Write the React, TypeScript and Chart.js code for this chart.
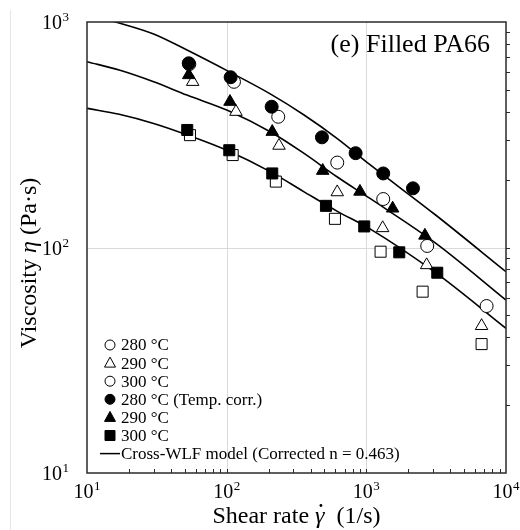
import React, { useEffect, useRef } from 'react';
import { Chart, registerables } from 'chart.js';

Chart.register(...registerables);

const FONT = "'Liberation Serif', 'Times New Roman', serif";

// ---- measured data (shear rate 1/s, viscosity Pa·s) ----
const open280X = [54, 112.8, 234, 619, 1321, 2729, 7262];
const open280Y = [650, 543, 380, 238, 164, 101.6, 55];
const open290X = [57.1, 116.6, 237, 619, 1309, 2703, 6687];
const open290Y = [543, 400, 283, 176, 122, 83.6, 44.9];
const open300X = [54.6, 110.4, 225, 596, 1265, 2529, 6687];
const open300Y = [315, 257, 196, 134, 95.8, 63.7, 37.3];

const filled280X = [53.5, 106.8, 210, 481, 838, 1321, 2157];
const filled280Y = [656, 569, 421, 308, 262, 213, 183];
const filled290X = [53.5, 105.6, 212, 487, 900, 1543, 2627];
const filled290Y = [582, 443, 326, 219, 177, 149, 113];
const filled300X = [52.2, 104.4, 212, 514, 966, 1721, 3220];
const filled300Y = [332, 270, 213, 153, 124, 95.2, 77.3];

// Cross-WLF model curves
const modelX = [10, 17, 30, 52, 103, 205, 356, 616, 1062, 3150, 10000];
const model280Y = [1080, 990, 885, 751, 604, 480, 388, 305, 233, 139, 78.1];
const model290Y = [667, 612, 543, 474, 404, 326, 262, 206, 165, 104.4, 58.5];
const model300Y = [414, 390, 355, 316, 268, 217, 177, 145, 121, 77.1, 43.8];

// axes
const xTickExps = [1, 2, 3, 4];
const yTickExps = [1, 2, 3];
const xGridValues = [100, 1000];
const yGridValues = [100];
const xDecades = [10, 100, 1000];
const yDecades = [10, 100];

// texts
const panelTitle = '(e) Filled PA66';
const legendLabels = [
  '280 °C',
  '290 °C',
  '300 °C',
  '280 °C (Temp. corr.)',
  '290 °C',
  '300 °C',
  'Cross-WLF model (Corrected n = 0.463)',
];
const legendShapes = ['circle', 'triangle', 'circle', 'circle', 'triangle', 'rect', 'line'];
const legendFilled = [false, false, false, true, true, true, false];

const zip = (xs: number[], ys: number[]) => xs.map((x, i) => ({ x, y: ys[i] }));

function drawPow(ctx: CanvasRenderingContext2D, exp: number, x: number, baseY: number, align: 'center' | 'right') {
  ctx.save();
  ctx.textAlign = 'left';
  ctx.textBaseline = 'alphabetic';
  ctx.font = `20px ${FONT}`;
  const wb = ctx.measureText('10').width;
  ctx.font = `13px ${FONT}`;
  const we = ctx.measureText(String(exp)).width;
  const total = wb + we + 0.5;
  const start = align === 'center' ? x - total / 2 : x - total;
  ctx.font = `20px ${FONT}`;
  ctx.fillText('10', start, baseY);
  ctx.font = `13px ${FONT}`;
  ctx.fillText(String(exp), start + wb + 0.5, baseY - 8);
  ctx.restore();
}

function drawSymbol(ctx: CanvasRenderingContext2D, shape: string, filled: boolean, cx: number, cy: number) {
  ctx.save();
  ctx.lineWidth = 1;
  ctx.strokeStyle = '#000';
  ctx.fillStyle = filled ? '#000' : '#fff';
  ctx.beginPath();
  if (shape === 'circle') {
    ctx.arc(cx, cy, 5, 0, Math.PI * 2);
  } else if (shape === 'triangle') {
    ctx.moveTo(cx, cy - 6);
    ctx.lineTo(cx + 5.5, cy + 4);
    ctx.lineTo(cx - 5.5, cy + 4);
    ctx.closePath();
  } else if (shape === 'rect') {
    ctx.rect(cx - 5, cy - 5, 10, 10);
  } else if (shape === 'line') {
    ctx.lineWidth = 1.5;
    ctx.moveTo(cx - 10, cy);
    ctx.lineTo(cx + 10, cy);
    ctx.stroke();
    ctx.restore();
    return;
  }
  ctx.fill();
  ctx.stroke();
  ctx.restore();
}

const decor = {
  id: 'decor',
  beforeDatasetsDraw(chart: any) {
    const { ctx, chartArea: a, scales } = chart;
    const xs = scales.x;
    const ys = scales.y;
    ctx.save();
    // faint frame edge on the far left
    ctx.strokeStyle = '#e6e6e6';
    ctx.lineWidth = 1;
    ctx.beginPath();
    ctx.moveTo(10.5, 10);
    ctx.lineTo(10.5, 530);
    ctx.stroke();
    // grid lines
    ctx.strokeStyle = '#d9d9d9';
    ctx.lineWidth = 1;
    for (const v of xGridValues) {
      const px = Math.round(xs.getPixelForValue(v)) + 0.5;
      ctx.beginPath();
      ctx.moveTo(px, a.top);
      ctx.lineTo(px, a.bottom);
      ctx.stroke();
    }
    for (const v of yGridValues) {
      const py = Math.round(ys.getPixelForValue(v)) + 0.5;
      ctx.beginPath();
      ctx.moveTo(a.left, py);
      ctx.lineTo(a.right, py);
      ctx.stroke();
    }
    ctx.restore();
  },
  afterDatasetsDraw(chart: any) {
    const { ctx, chartArea: a, scales } = chart;
    const xs = scales.x;
    const ys = scales.y;
    ctx.save();
    // plot box
    ctx.strokeStyle = '#2a2a2a';
    ctx.lineWidth = 1.5;
    ctx.strokeRect(a.left, a.top, a.right - a.left, a.bottom - a.top);

    // minor ticks: bottom (inward), right (outward)
    ctx.lineWidth = 1;
    for (const d of xDecades) {
      for (let m = 1; m <= 9; m++) {
        if (d === 10 && m === 1) continue;
        const px = Math.round(xs.getPixelForValue(d * m)) + 0.5;
        ctx.beginPath();
        ctx.moveTo(px, a.bottom);
        ctx.lineTo(px, a.bottom - 4);
        ctx.stroke();
      }
    }
    for (const d of yDecades) {
      for (let m = 1; m <= 9; m++) {
        if (d === 10 && m === 1) continue;
        const py = Math.round(ys.getPixelForValue(d * m)) + 0.5;
        ctx.beginPath();
        ctx.moveTo(a.right, py);
        ctx.lineTo(a.right + 4, py);
        ctx.stroke();
      }
    }

    ctx.fillStyle = '#000';
    // tick labels
    for (const e of xTickExps) {
      const px = xs.getPixelForValue(Math.pow(10, e));
      drawPow(ctx, e, px, 498, 'center');
    }
    for (const e of yTickExps) {
      const py = ys.getPixelForValue(Math.pow(10, e));
      drawPow(ctx, e, 69, py + 7, 'right');
    }

    // x title: Shear rate γ̇  (1/s)
    ctx.textBaseline = 'alphabetic';
    ctx.textAlign = 'left';
    const t1 = 'Shear rate ';
    const t2 = 'γ';
    const t3 = '  (1/s)';
    ctx.font = `24px ${FONT}`;
    const w1 = ctx.measureText(t1).width;
    const w3 = ctx.measureText(t3).width;
    ctx.font = `italic 24px ${FONT}`;
    const w2 = ctx.measureText(t2).width;
    const cx = (a.left + a.right) / 2;
    let sx = cx - (w1 + w2 + w3) / 2;
    const by = 523;
    ctx.font = `24px ${FONT}`;
    ctx.fillText(t1, sx, by);
    ctx.font = `italic 24px ${FONT}`;
    ctx.fillText(t2, sx + w1, by);
    ctx.beginPath();
    ctx.arc(sx + w1 + w2 * 0.62, by - 17.5, 1.4, 0, Math.PI * 2);
    ctx.fill();
    ctx.font = `24px ${FONT}`;
    ctx.fillText(t3, sx + w1 + w2, by);

    // y title: Viscosity η (Pa·s)
    ctx.save();
    ctx.translate(36, 263);
    ctx.rotate(-Math.PI / 2);
    const u1 = 'Viscosity ';
    const u2 = 'η';
    const u3 = ' (Pa·s)';
    ctx.font = `24px ${FONT}`;
    const v1 = ctx.measureText(u1).width;
    const v3 = ctx.measureText(u3).width;
    ctx.font = `italic 24px ${FONT}`;
    const v2 = ctx.measureText(u2).width;
    let ux = -(v1 + v2 + v3) / 2;
    ctx.font = `24px ${FONT}`;
    ctx.fillText(u1, ux, 0);
    ctx.font = `italic 24px ${FONT}`;
    ctx.fillText(u2, ux + v1, 0);
    ctx.font = `24px ${FONT}`;
    ctx.fillText(u3, ux + v1 + v2, 0);
    ctx.restore();

    // panel title
    ctx.font = `26px ${FONT}`;
    ctx.textAlign = 'right';
    ctx.fillText(panelTitle, 490, 52);

    // legend
    ctx.textAlign = 'left';
    ctx.textBaseline = 'middle';
    ctx.font = `17px ${FONT}`;
    legendLabels.forEach((lab, i) => {
      const cy = 345 + i * 18.1;
      drawSymbol(ctx, legendShapes[i], legendFilled[i], 110, cy);
      ctx.fillStyle = '#000';
      ctx.fillText(lab, 121, cy + 1);
    });
    ctx.restore();
  },
};

export default function App() {
  const ref = useRef<HTMLCanvasElement>(null);
  useEffect(() => {
    const canvas = ref.current;
    if (!canvas) return;
    const markerBase = { showLine: false, borderColor: '#000', borderWidth: 1 };
    const lineBase = {
      showLine: true,
      pointRadius: 0,
      borderColor: '#000',
      borderWidth: 1.6,
      cubicInterpolationMode: 'monotone' as const,
      order: 2,
    };
    const chart = new Chart(canvas, {
      type: 'scatter',
      data: {
        datasets: [
          { ...lineBase, label: 'Cross-WLF 280', data: zip(modelX, model280Y) },
          { ...lineBase, label: 'Cross-WLF 290', data: zip(modelX, model290Y) },
          { ...lineBase, label: 'Cross-WLF 300', data: zip(modelX, model300Y) },
          { ...markerBase, label: '280 °C', data: zip(open280X, open280Y), pointStyle: 'circle', pointRadius: 6.5, backgroundColor: '#fff', order: 1 },
          { ...markerBase, label: '290 °C', data: zip(open290X, open290Y), pointStyle: 'triangle', pointRadius: 7.2, backgroundColor: '#fff', order: 1 },
          { ...markerBase, label: '300 °C', data: zip(open300X, open300Y), pointStyle: 'rect', pointRadius: 7.8, backgroundColor: '#fff', order: 1 },
          { ...markerBase, label: '280 °C (Temp. corr.)', data: zip(filled280X, filled280Y), pointStyle: 'circle', pointRadius: 6.5, backgroundColor: '#000', order: 0 },
          { ...markerBase, label: '290 °C corr', data: zip(filled290X, filled290Y), pointStyle: 'triangle', pointRadius: 7.2, backgroundColor: '#000', order: 0 },
          { ...markerBase, label: '300 °C corr', data: zip(filled300X, filled300Y), pointStyle: 'rect', pointRadius: 7.8, backgroundColor: '#000', order: 0 },
        ] as any,
      },
      options: {
        animation: false,
        responsive: false,
        events: [],
        layout: { padding: { left: 87, right: 14, top: 22, bottom: 57 } },
        elements: { line: { capBezierPoints: false } },
        scales: {
          x: { type: 'logarithmic', min: 10, max: 10000, display: false },
          y: { type: 'logarithmic', min: 10, max: 1000, display: false },
        },
        plugins: { legend: { display: false }, tooltip: { enabled: false } },
      },
      plugins: [decor],
    });
    return () => chart.destroy();
  }, []);
  return (
    <div style={{ position: 'absolute', left: 0, top: 0, width: 520, height: 530, background: '#fff' }}>
      <canvas ref={ref} width={520} height={530} style={{ display: 'block' }} />
    </div>
  );
}
